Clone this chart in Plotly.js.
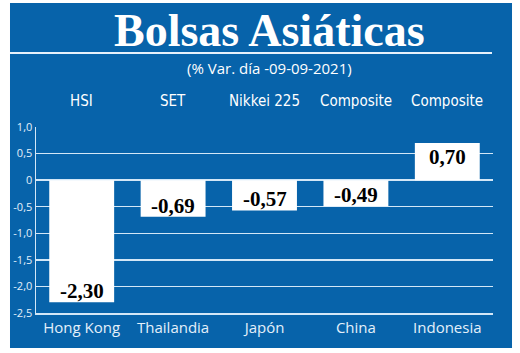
<!DOCTYPE html>
<html>
<head>
<meta charset="utf-8">
<script src="https://cdn.plot.ly/plotly-3.0.1.min.js"></script>
<style>html,body{margin:0;padding:0;background:#fff;}#chart{width:520px;height:353px;}</style>
</head>
<body>
<div id="chart"></div>
<script>
const countries = ["Hong Kong", "Thailandia", "Japón", "China", "Indonesia"];
const indices = ["HSI", "SET", "Nikkei 225", "Composite", "Composite"];
const changes = [-2.30, -0.69, -0.57, -0.49, 0.70];
const yTickVals = [1.0, 0.5, 0, -0.5, -1.0, -1.5, -2.0, -2.5];
const yTickText = ["1,0", "0,5", "0", "-0,5", "-1,0", "-1,5", "-2,0", "-2,5"];
const titleText = "Bolsas Asiáticas";
const subtitleText = "(% Var. día -09-09-2021)";

const BLUE = "#0763aa";
const LIGHT = "#d3e7f7";
const fmt = v => v.toFixed(2).replace(".", ",");

const trace = {
  type: "bar",
  x: countries,
  y: changes,
  marker: { color: "#ffffff", line: { width: 0 } },
  hoverinfo: "skip"
};

const annotations = [];
annotations.push({
  text: "<b>" + titleText + "</b>", xref: "paper", yref: "paper",
  x: 0.51, y: 1.52, xanchor: "center", yanchor: "middle", showarrow: false,
  font: { family: "Liberation Serif, serif", size: 46, color: "#ffffff" }
});
annotations.push({
  text: subtitleText, xref: "paper", yref: "paper",
  x: 0.512, y: 1.315, xanchor: "center", yanchor: "middle", showarrow: false,
  font: { family: "Open Sans, sans-serif", size: 15, color: "#ffffff" }
});
countries.forEach((c, i) => {
  annotations.push({
    text: indices[i], xref: "x", yref: "paper", x: c, y: 1,
    yanchor: "middle", yshift: 26, showarrow: false,
    font: { family: "DejaVu Sans Condensed, sans-serif", size: 15, color: "#ffffff" }
  });
  annotations.push({
    text: "<b>" + fmt(changes[i]) + "</b>", xref: "x", yref: "y", x: c, y: changes[i],
    yanchor: changes[i] < 0 ? "bottom" : "top", yshift: changes[i] < 0 ? -3 : 0, showarrow: false,
    font: { family: "Liberation Serif, serif", size: 21, color: "#000000" }
  });
});

const layout = {
  width: 520, height: 353,
  margin: { l: 36, r: 27, t: 127, b: 40, pad: 0 },
  paper_bgcolor: "#ffffff",
  plot_bgcolor: "rgba(0,0,0,0)",
  showlegend: false,
  bargap: 0.29,
  xaxis: {
    type: "category", showgrid: false, zeroline: false,
    showline: true, linecolor: LIGHT, linewidth: 1.5,
    ticks: "", tickfont: { family: "Open Sans, sans-serif", size: 15, color: "#e4f0fa" },
    fixedrange: true
  },
  yaxis: {
    range: [-2.5, 1.0], tickvals: yTickVals, ticktext: yTickText,
    showgrid: true, gridcolor: LIGHT, gridwidth: 1.5,
    zeroline: false, showline: true, linecolor: LIGHT, linewidth: 1.5,
    ticks: "", tickfont: { family: "Open Sans, sans-serif", size: 11, color: "#e4f0fa" },
    fixedrange: true
  },
  shapes: [
    { type: "rect", xref: "paper", yref: "paper", x0: -0.0569, x1: 1.0416, y0: -0.188, y1: 1.667,
      fillcolor: BLUE, line: { width: 0 }, layer: "below" },
    { type: "line", xref: "paper", yref: "paper", x0: -0.0569, x1: 0.9978, y0: 1.398, y1: 1.398,
      line: { color: "#e6f1fb", width: 2 }, layer: "above" }
  ],
  annotations: annotations
};

Plotly.newPlot("chart", [trace], layout, { displayModeBar: false, staticPlot: true });
</script>
</body>
</html>
